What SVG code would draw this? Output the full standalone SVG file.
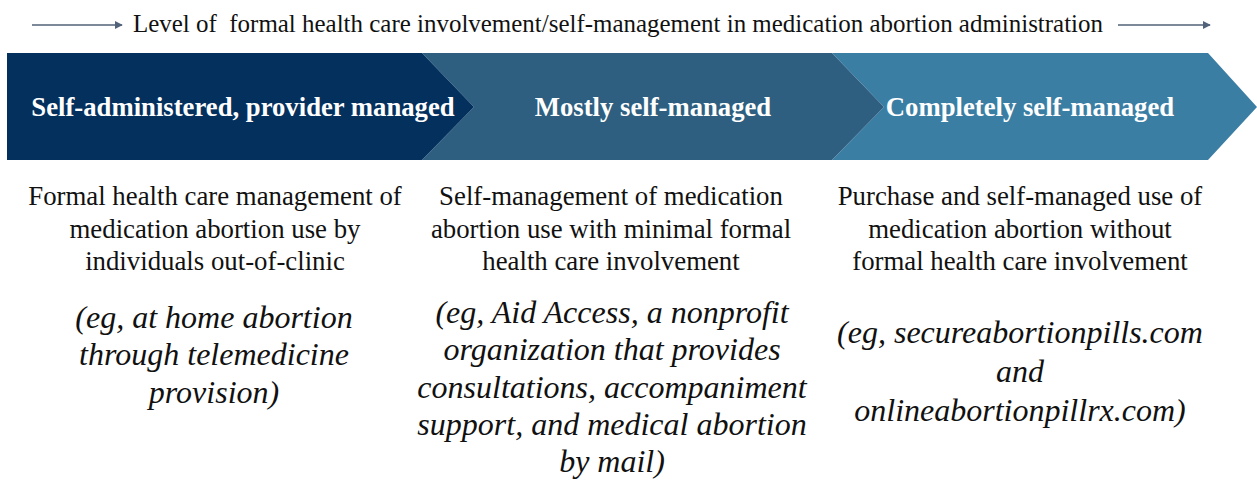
<svg xmlns="http://www.w3.org/2000/svg" width="1257" height="488" viewBox="0 0 1257 488">
<style>
.top{font-family:"Liberation Serif",serif;font-size:25px;fill:#111;white-space:pre}
.hd{font-family:"Liberation Serif",serif;font-size:26.7px;font-weight:bold;fill:#fff;text-anchor:middle}
.bd{font-family:"Liberation Serif",serif;font-size:26.8px;fill:#111;text-anchor:middle}
.it{font-family:"Liberation Serif",serif;font-size:32px;font-style:italic;fill:#111;text-anchor:middle}
.ar{stroke:#52627a;stroke-width:1.5;fill:none}
</style>
<defs>
<marker id="ah" viewBox="0 0 10 10" refX="9" refY="5" markerWidth="8" markerHeight="8" markerUnits="userSpaceOnUse" orient="auto">
<path d="M0,0 L10,5 L0,10 Z" fill="#52627a"/>
</marker>
</defs>
<g id="connectors">
<line class="ar" x1="32" y1="25" x2="122" y2="25" marker-end="url(#ah)"/>
<line class="ar" x1="1118" y1="25" x2="1210" y2="25" marker-end="url(#ah)"/>
</g>
<text class="top" x="133" y="32" textLength="970" lengthAdjust="spacingAndGlyphs" xml:space="preserve">Level of  formal health care involvement/self-management in medication abortion administration</text>
<g id="stage3">
<polygon points="832,53 1208,53 1257,107 1208,160 832,160 884,107" fill="#3b7ea4"/>
<text class="hd" x="1030" y="116">Completely self-managed</text>
<text class="bd" x="1020" y="205">Purchase and self-managed use of</text>
<text class="bd" x="1020" y="238">medication abortion without</text>
<text class="bd" x="1020" y="270">formal health care involvement</text>
<text class="it" x="1020" y="343">(eg, secureabortionpills.com</text>
<text class="it" x="1020" y="382">and</text>
<text class="it" x="1020" y="421">onlineabortionpillrx.com)</text>
</g>
<g id="stage2">
<polygon points="422,53 832,53 884,107 832,160 422,160 474,107" fill="#2e5f80"/>
<text class="hd" x="653" y="116">Mostly self-managed</text>
<text class="bd" x="611" y="205">Self-management of medication</text>
<text class="bd" x="611" y="238">abortion use with minimal formal</text>
<text class="bd" x="611" y="270">health care involvement</text>
<text class="it" x="612" y="323">(eg, Aid Access, a nonprofit</text>
<text class="it" x="612" y="360">organization that provides</text>
<text class="it" x="612" y="398">consultations, accompaniment</text>
<text class="it" x="612" y="435">support, and medical abortion</text>
<text class="it" x="612" y="472">by mail)</text>
</g>
<g id="stage1">
<polygon points="7,53 422,53 474,107 422,160 7,160" fill="#04305e"/>
<text class="hd" x="243" y="116">Self-administered, provider managed</text>
<text class="bd" x="215" y="205">Formal health care management of</text>
<text class="bd" x="215" y="238">medication abortion use by</text>
<text class="bd" x="215" y="270">individuals out-of-clinic</text>
<text class="it" x="214" y="328">(eg, at home abortion</text>
<text class="it" x="214" y="365">through telemedicine</text>
<text class="it" x="214" y="403">provision)</text>
</g>
</svg>
